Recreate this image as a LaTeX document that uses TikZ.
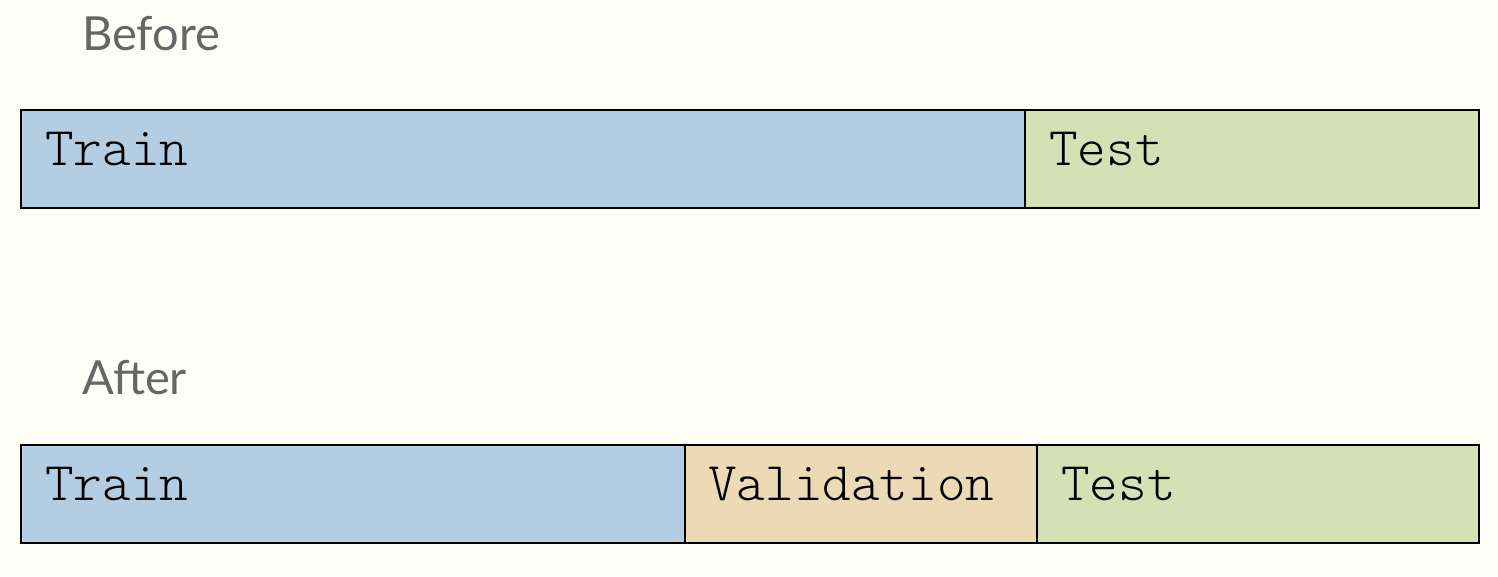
\documentclass[tikz,border=0pt]{standalone}
\usepackage{fontspec}
\setmainfont{Lato}
\newfontfamily\segfont{Latin Modern Mono Light}
\definecolor{bgc}{RGB}{254,254,246}
\definecolor{trainc}{RGB}{179,205,227}
\definecolor{testc}{RGB}{214,224,181}
\definecolor{valc}{RGB}{236,217,182}
\definecolor{labc}{RGB}{102,102,102}
\tikzset{
  seg/.style={draw=black, line width=2pt},
  segtext/.style={anchor=base west, inner sep=0pt, font=\fontsize{54.5}{54.5}\selectfont\segfont},
  heading/.style={anchor=base west, inner sep=0pt, text=labc, font=\fontsize{47}{47}\selectfont}
}
\begin{document}
\begin{tikzpicture}[x=1pt,y=-1pt]
\fill[bgc] (0,0) rectangle (1498,576);
\useasboundingbox (0,0) rectangle (1498,576);
% headings
\node[heading] (before) at (82,50) {Before};
\node[heading] (after) at (82,394) {After};
% Before row
\fill[trainc] (21,110) rectangle (1025,208);
\fill[testc] (1025,110) rectangle (1479,208);
\draw[seg] (21,110) rectangle (1479,208);
\draw[seg] (1025,110) -- (1025,208);
\node[segtext] (trainA) at (45,165) {Train};
\node[segtext] (testA) at (1049,165) {Test};
% After row
\fill[trainc] (21,445) rectangle (685,543);
\fill[valc] (685,445) rectangle (1037,543);
\fill[testc] (1037,445) rectangle (1479,543);
\draw[seg] (21,445) rectangle (1479,543);
\draw[seg] (685,445) -- (685,543);
\draw[seg] (1037,445) -- (1037,543);
\node[segtext] (trainB) at (45,500) {Train};
\node[segtext] (valB) at (708,500) {Validation};
\node[segtext] (testB) at (1061,500) {Test};
\end{tikzpicture}
\end{document}
